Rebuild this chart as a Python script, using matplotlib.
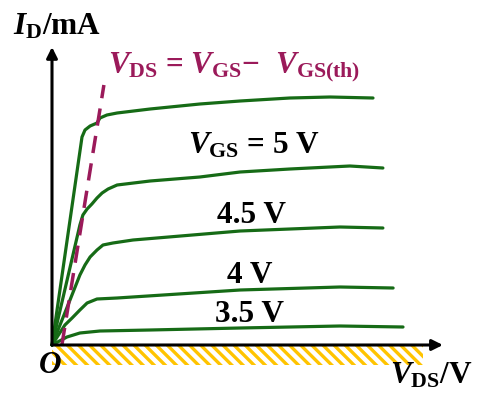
import numpy as np
import matplotlib
matplotlib.use("Agg")
import matplotlib.pyplot as plt
from matplotlib.patches import Rectangle

# ---- output characteristic curves (V_DS, I_D), arbitrary units ----
vds_55 = [0, 1.0, 1.1, 1.27, 1.5, 1.6, 1.83, 2.17, 3.27, 4.93, 6.27, 7.93, 9.27, 10.7]
id_55  = [0, 8.32, 8.6, 8.76, 8.88, 9.08, 9.2, 9.28, 9.44, 9.64, 9.76, 9.88, 9.92, 9.88]
vds_50 = [0, 0.93, 1.03, 1.17, 1.33, 1.5, 1.67, 1.87, 2.17, 3.27, 4.93, 6.27, 7.93, 9.93, 11.03]
id_50  = [0, 4.8, 5.2, 5.44, 5.64, 5.88, 6.08, 6.24, 6.4, 6.56, 6.72, 6.92, 7.04, 7.16, 7.08]
vds_45 = [0, 0.6, 0.93, 1.1, 1.27, 1.5, 1.7, 2.03, 2.7, 6.27, 9.6, 11.03]
id_45  = [0, 1.8, 2.8, 3.2, 3.52, 3.8, 4.0, 4.08, 4.2, 4.56, 4.72, 4.68]
vds_40 = [0, 0.43, 0.67, 0.93, 1.17, 1.5, 2.17, 6.27, 9.6, 11.37]
id_40  = [0, 0.8, 1.08, 1.4, 1.68, 1.84, 1.88, 2.2, 2.32, 2.28]
vds_35 = [0, 0.5, 0.93, 1.6, 3.27, 6.27, 9.6, 11.7]
id_35  = [0, 0.32, 0.48, 0.56, 0.6, 0.68, 0.76, 0.72]
curves = [(vds_55, id_55), (vds_50, id_50), (vds_45, id_45), (vds_40, id_40), (vds_35, id_35)]

# boundary V_DS = V_GS - V_GS(th)
vds_sat = [0.33, 1.73]
id_sat  = [0.0, 10.4]

labels = ["$V_{\\mathrm{GS}}$ = 5 V", "4.5 V", "4 V", "3.5 V"]
label_pos = [(4.53, 7.68), (5.5, 4.88), (5.83, 2.48), (5.43, 0.92)]

x_end, y_end = 13.03, 11.92     # axis arrow tips
hatch_w, hatch_h = 12.37, 0.8   # hatched strip under the V_DS axis

GREEN = "#166b16"; PURPLE = "#9b1a5a"; YELLOW = "#ffc400"

plt.rcParams["font.family"] = ["Liberation Serif", "DejaVu Serif"]
plt.rcParams["font.weight"] = "bold"
plt.rcParams["mathtext.fontset"] = "custom"
plt.rcParams["mathtext.rm"] = "Liberation Serif:bold"
plt.rcParams["mathtext.bf"] = "Liberation Serif:bold"
plt.rcParams["mathtext.it"] = "Liberation Serif:bold:italic"
plt.rcParams["hatch.linewidth"] = 2.4
plt.rcParams["hatch.color"] = YELLOW

fig = plt.figure(figsize=(4.79, 3.98), dpi=100)
ax = fig.add_axes([0, 0, 1, 1])
ax.set_xlim(-52 / 30, 427 / 30)
ax.set_ylim(-53 / 25, 345 / 25)
ax.axis("off")

ax.add_patch(Rectangle((0, -hatch_h), hatch_w, hatch_h, facecolor="white",
                       edgecolor=YELLOW, hatch="\\\\\\", lw=0))

for xs, ys in curves:
    ax.plot(xs, ys, color=GREEN, lw=2.3, solid_capstyle="round", solid_joinstyle="round")
ax.plot(vds_sat, id_sat, color=PURPLE, lw=2.5, ls=(0, (5, 3)))

arrow = dict(arrowstyle="-|>", lw=2.2, color="black", mutation_scale=16, shrinkA=0, shrinkB=0)
ax.annotate("", xy=(x_end, 0), xytext=(0, 0), arrowprops=arrow)
ax.annotate("", xy=(0, y_end), xytext=(0, 0), arrowprops=arrow)

fs = 22.5
ax.text(-1.3, 12.44, "$I_{\\mathrm{D}}$/mA", fontsize=fs, va="baseline")
ax.text(1.87, 10.88, "$V_{\\mathrm{DS}}$ = $V_{\\mathrm{GS}}$\u2212  $V_{\\mathrm{GS(th)}}$",
        fontsize=fs, color=PURPLE, va="baseline")
for s, (x, y) in zip(labels, label_pos):
    ax.text(x, y, s, fontsize=fs, va="baseline")
ax.text(-0.47, -1.12, "$O$", fontsize=fs, va="baseline")
ax.text(11.27, -1.52, "$V_{\\mathrm{DS}}$/V", fontsize=fs, va="baseline")

fig.savefig("out.png", dpi=100)
